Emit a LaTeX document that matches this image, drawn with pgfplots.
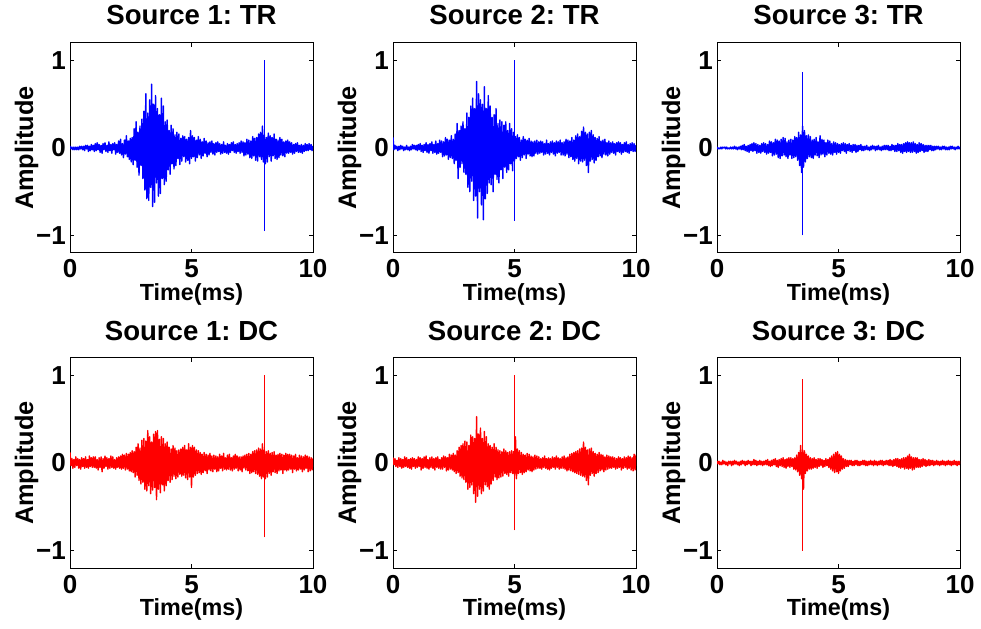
\documentclass[border=0pt]{standalone}
\usepackage{fontspec}
\setmainfont{Liberation Sans}
\usepackage{pgfplots}
\usepackage{pgfplotstable}
\pgfplotsset{compat=1.18}
\frenchspacing

% Source 1: TR (sampled every 0.04 ms)
\pgfplotstableread[row sep=\\,header=false]{
0.02\\-0.01\\0.01\\-0.02\\0.01\\-0.02\\0.01\\-0.02\\0.01\\-0.02\\0.02\\-0.01\\0.02\\-0.02\\0.02\\-0.03\\0.03\\-0.01\\0.03\\-0.04\\0.02\\-0.03\\0.04\\-0.02\\0.03\\
-0.04\\0.05\\-0.03\\0.06\\-0.02\\0.04\\-0.05\\0.03\\-0.06\\0.05\\-0.02\\0.06\\-0.04\\0.03\\-0.05\\0.07\\-0.03\\0.04\\-0.06\\0.05\\-0.02\\0.06\\-0.07\\0.04\\-0.05\\
0.08\\-0.06\\0.10\\-0.08\\0.05\\-0.11\\0.09\\-0.07\\0.14\\-0.10\\0.08\\-0.13\\0.11\\-0.16\\0.12\\-0.19\\0.22\\-0.14\\0.30\\-0.22\\0.18\\-0.31\\0.25\\-0.20\\0.33\\
-0.35\\0.42\\-0.48\\0.62\\-0.58\\0.40\\-0.60\\0.55\\-0.45\\0.73\\-0.67\\0.50\\-0.62\\0.60\\-0.40\\0.45\\-0.55\\0.38\\-0.52\\0.57\\-0.35\\0.48\\-0.42\\0.30\\-0.38\\
0.32\\-0.25\\0.20\\-0.30\\0.26\\-0.18\\0.22\\-0.24\\0.15\\-0.20\\0.18\\-0.12\\0.16\\-0.19\\0.11\\-0.15\\0.14\\-0.10\\0.13\\-0.16\\0.10\\-0.14\\0.12\\-0.18\\0.20\\
-0.12\\0.14\\-0.10\\0.12\\-0.15\\0.09\\-0.11\\0.13\\-0.08\\0.10\\-0.12\\0.07\\-0.09\\0.11\\-0.06\\0.08\\-0.10\\0.06\\-0.08\\0.07\\-0.05\\0.08\\-0.07\\0.05\\-0.08\\
0.06\\-0.05\\0.07\\-0.04\\0.05\\-0.07\\0.04\\-0.06\\0.07\\-0.05\\0.03\\-0.06\\0.05\\-0.07\\0.04\\-0.05\\0.06\\-0.03\\0.07\\-0.05\\0.04\\-0.06\\0.05\\-0.04\\0.06\\
-0.06\\0.08\\-0.05\\0.07\\-0.09\\0.06\\-0.08\\0.10\\-0.07\\0.09\\-0.11\\0.08\\-0.12\\0.13\\-0.09\\0.11\\-0.14\\0.12\\-0.15\\0.16\\-0.10\\0.18\\-0.13\\0.25\\-0.16\\
0.15\\-0.18\\0.12\\-0.16\\0.17\\-0.10\\0.14\\-0.15\\0.12\\-0.09\\0.16\\-0.12\\0.10\\-0.13\\0.09\\-0.11\\0.12\\-0.08\\0.10\\-0.09\\0.07\\-0.10\\0.08\\-0.06\\0.09\\
-0.06\\0.07\\-0.05\\0.06\\-0.07\\0.04\\-0.06\\0.05\\-0.04\\0.06\\-0.05\\0.03\\-0.05\\0.04\\-0.06\\0.03\\-0.04\\0.05\\-0.03\\0.04\\-0.03\\0.05\\-0.02\\0.04\\-0.03\\
0.02\\
}\tA

% Source 2: TR
\pgfplotstableread[row sep=\\,header=false]{
0.12\\-0.02\\0.03\\-0.01\\0.02\\-0.03\\0.02\\-0.02\\0.03\\-0.01\\0.02\\-0.03\\0.01\\-0.02\\0.03\\-0.02\\0.01\\-0.03\\0.02\\-0.02\\0.04\\-0.01\\0.03\\-0.02\\0.03\\
-0.03\\0.04\\-0.02\\0.05\\-0.04\\0.03\\-0.05\\0.04\\-0.03\\0.06\\-0.05\\0.04\\-0.06\\0.05\\-0.03\\0.07\\-0.06\\0.04\\-0.05\\0.08\\-0.07\\0.05\\-0.06\\0.09\\-0.05\\
0.08\\-0.10\\0.07\\-0.09\\0.12\\-0.08\\0.10\\-0.13\\0.09\\-0.11\\0.14\\-0.12\\0.10\\-0.18\\0.16\\-0.14\\0.28\\-0.35\\0.20\\-0.22\\0.25\\-0.18\\0.30\\-0.28\\0.22\\
-0.30\\0.40\\-0.45\\0.35\\-0.50\\0.48\\-0.38\\0.57\\-0.60\\0.45\\-0.55\\0.76\\-0.80\\0.62\\-0.50\\0.55\\-0.65\\0.50\\-0.82\\0.70\\-0.58\\0.45\\-0.52\\0.60\\-0.40\\
0.48\\-0.42\\0.35\\-0.50\\0.38\\-0.30\\0.45\\-0.36\\0.28\\-0.40\\0.32\\-0.25\\0.30\\-0.35\\0.26\\-0.22\\0.30\\-0.28\\0.20\\-0.25\\0.28\\-0.18\\0.22\\-0.26\\0.18\\
-0.15\\0.13\\-0.12\\0.15\\-0.10\\0.12\\-0.14\\0.09\\-0.11\\0.13\\-0.08\\0.10\\-0.12\\0.09\\-0.07\\0.11\\-0.09\\0.08\\-0.10\\0.07\\-0.09\\0.08\\-0.06\\0.09\\-0.07\\
0.07\\-0.06\\0.08\\-0.05\\0.07\\-0.08\\0.05\\-0.07\\0.09\\-0.06\\0.05\\-0.08\\0.07\\-0.05\\0.08\\-0.07\\0.06\\-0.09\\0.08\\-0.06\\0.07\\-0.05\\0.09\\-0.08\\0.06\\
-0.08\\0.07\\-0.09\\0.10\\-0.07\\0.09\\-0.11\\0.08\\-0.10\\0.12\\-0.13\\0.09\\-0.15\\0.14\\-0.12\\0.16\\-0.18\\0.13\\-0.15\\0.19\\-0.16\\0.24\\-0.14\\0.18\\-0.20\\
0.16\\-0.28\\0.18\\-0.15\\0.20\\-0.13\\0.15\\-0.17\\0.12\\-0.14\\0.11\\-0.10\\0.13\\-0.09\\0.08\\-0.11\\0.09\\-0.07\\0.10\\-0.08\\0.06\\-0.09\\0.08\\-0.07\\0.06\\
-0.05\\0.07\\-0.06\\0.05\\-0.08\\0.06\\-0.04\\0.07\\-0.05\\0.06\\-0.07\\0.04\\-0.05\\0.06\\-0.04\\0.07\\-0.05\\0.04\\-0.06\\0.05\\-0.03\\0.06\\-0.04\\0.05\\-0.04\\
0.03\\
}\tB

% Source 3: TR
\pgfplotstableread[row sep=\\,header=false]{
0.01\\-0.01\\0.00\\-0.01\\0.01\\-0.01\\0.01\\0.00\\0.01\\-0.01\\0.01\\-0.01\\0.00\\-0.01\\0.01\\-0.01\\0.01\\-0.01\\0.02\\-0.01\\0.01\\-0.02\\0.01\\-0.01\\0.02\\
-0.02\\0.03\\-0.02\\0.04\\-0.03\\0.02\\-0.04\\0.03\\-0.05\\0.04\\-0.03\\0.05\\-0.04\\0.06\\-0.03\\0.05\\-0.06\\0.04\\-0.05\\0.03\\-0.06\\0.05\\-0.04\\0.06\\-0.05\\
0.05\\-0.07\\0.04\\-0.06\\0.08\\-0.05\\0.07\\-0.09\\0.06\\-0.08\\0.10\\-0.07\\0.09\\-0.11\\0.08\\-0.12\\0.10\\-0.09\\0.12\\-0.08\\0.11\\-0.10\\0.07\\-0.12\\0.09\\
-0.08\\0.10\\-0.12\\0.09\\-0.11\\0.13\\-0.10\\0.12\\-0.14\\0.18\\-0.20\\0.15\\-0.28\\0.25\\-0.22\\0.20\\-0.16\\0.14\\-0.12\\0.15\\-0.10\\0.13\\-0.11\\0.09\\-0.12\\
0.10\\-0.08\\0.12\\-0.09\\0.07\\-0.11\\0.14\\-0.08\\0.10\\-0.07\\0.09\\-0.10\\0.06\\-0.08\\0.09\\-0.06\\0.08\\-0.07\\0.05\\-0.08\\0.07\\-0.05\\0.06\\-0.07\\0.05\\
-0.05\\0.04\\-0.06\\0.05\\-0.03\\0.06\\-0.04\\0.05\\-0.06\\0.04\\-0.03\\0.05\\-0.04\\0.03\\-0.05\\0.04\\-0.03\\0.04\\-0.05\\0.03\\-0.04\\0.03\\-0.02\\0.04\\-0.03\\
0.02\\-0.03\\0.02\\-0.02\\0.03\\-0.02\\0.01\\-0.03\\0.02\\-0.02\\0.03\\-0.01\\0.02\\-0.03\\0.02\\-0.02\\0.03\\-0.02\\0.01\\-0.03\\0.02\\-0.02\\0.03\\-0.02\\0.03\\
-0.02\\0.03\\-0.03\\0.02\\-0.03\\0.04\\-0.02\\0.03\\-0.04\\0.03\\-0.04\\0.05\\-0.03\\0.04\\-0.05\\0.04\\-0.06\\0.05\\-0.04\\0.06\\-0.05\\0.07\\-0.04\\0.06\\-0.05\\
0.06\\-0.05\\0.07\\-0.04\\0.05\\-0.06\\0.04\\-0.05\\0.06\\-0.04\\0.05\\-0.03\\0.04\\-0.05\\0.03\\-0.04\\0.03\\-0.04\\0.03\\-0.02\\0.03\\-0.03\\0.02\\-0.03\\0.02\\
-0.02\\0.02\\-0.01\\0.02\\-0.02\\0.01\\-0.02\\0.02\\-0.01\\0.02\\-0.02\\0.01\\-0.02\\0.01\\-0.02\\0.02\\-0.01\\0.02\\-0.01\\0.01\\-0.02\\0.01\\-0.01\\0.02\\-0.01\\
0.01\\
}\tC

% Source 1: DC
\pgfplotstableread[row sep=\\,header=false]{
0.12\\-0.03\\0.05\\-0.06\\0.04\\-0.05\\0.07\\-0.03\\0.05\\-0.06\\0.04\\-0.07\\0.06\\-0.04\\0.05\\-0.06\\0.07\\-0.05\\0.04\\-0.06\\0.08\\-0.04\\0.06\\-0.05\\0.07\\
-0.05\\0.07\\-0.06\\0.04\\-0.08\\0.06\\-0.05\\0.07\\-0.10\\0.05\\-0.06\\0.08\\-0.04\\0.06\\-0.07\\0.05\\-0.06\\0.08\\-0.05\\0.07\\-0.06\\0.04\\-0.07\\0.06\\-0.05\\
0.07\\-0.06\\0.08\\-0.07\\0.10\\-0.06\\0.09\\-0.08\\0.11\\-0.07\\0.10\\-0.09\\0.12\\-0.10\\0.14\\-0.11\\0.13\\-0.16\\0.18\\-0.14\\0.22\\-0.20\\0.17\\-0.24\\0.26\\
-0.22\\0.28\\-0.30\\0.25\\-0.32\\0.37\\-0.26\\0.30\\-0.35\\0.24\\-0.31\\0.33\\-0.28\\0.36\\-0.42\\0.37\\-0.30\\0.27\\-0.34\\0.30\\-0.25\\0.28\\-0.32\\0.22\\-0.26\\
0.24\\-0.20\\0.18\\-0.22\\0.16\\-0.19\\0.20\\-0.15\\0.17\\-0.18\\0.14\\-0.16\\0.15\\-0.13\\0.16\\-0.15\\0.18\\-0.14\\0.20\\-0.17\\0.15\\-0.19\\0.22\\-0.16\\0.18\\
-0.28\\0.20\\-0.16\\0.18\\-0.14\\0.15\\-0.12\\0.14\\-0.11\\0.12\\-0.13\\0.10\\-0.11\\0.12\\-0.09\\0.10\\-0.12\\0.09\\-0.08\\0.11\\-0.09\\0.08\\-0.10\\0.09\\-0.07\\
0.08\\-0.10\\0.07\\-0.09\\0.10\\-0.06\\0.08\\-0.09\\0.11\\-0.07\\0.06\\-0.08\\0.09\\-0.07\\0.10\\-0.08\\0.06\\-0.09\\0.08\\-0.07\\0.10\\-0.06\\0.08\\-0.09\\0.07\\
-0.08\\0.07\\-0.10\\0.08\\-0.06\\0.09\\-0.08\\0.10\\-0.09\\0.11\\-0.12\\0.10\\-0.11\\0.13\\-0.10\\0.14\\-0.12\\0.15\\-0.13\\0.17\\-0.15\\0.16\\-0.18\\0.22\\-0.16\\
0.15\\-0.18\\0.13\\-0.16\\0.14\\-0.12\\0.11\\-0.14\\0.12\\-0.10\\0.13\\-0.11\\0.09\\-0.12\\0.10\\-0.09\\0.11\\-0.08\\0.10\\-0.12\\0.09\\-0.08\\0.11\\-0.09\\0.10\\
-0.08\\0.10\\-0.07\\0.09\\-0.11\\0.08\\-0.07\\0.10\\-0.09\\0.06\\-0.08\\0.09\\-0.07\\0.08\\-0.10\\0.07\\-0.08\\0.09\\-0.06\\0.08\\-0.10\\0.07\\-0.09\\0.06\\-0.08\\
0.05\\
}\tD

% Source 2: DC
\pgfplotstableread[row sep=\\,header=false]{
0.06\\-0.02\\0.05\\-0.04\\0.03\\-0.05\\0.06\\-0.04\\0.05\\-0.06\\0.04\\-0.05\\0.07\\-0.04\\0.06\\-0.05\\0.04\\-0.06\\0.05\\-0.07\\0.06\\-0.04\\0.05\\-0.06\\0.04\\
-0.05\\0.07\\-0.04\\0.06\\-0.08\\0.05\\-0.06\\0.07\\-0.05\\0.08\\-0.06\\0.04\\-0.07\\0.06\\-0.05\\0.07\\-0.06\\0.05\\-0.08\\0.06\\-0.05\\0.07\\-0.06\\0.04\\-0.07\\
0.06\\-0.07\\0.08\\-0.05\\0.07\\-0.09\\0.06\\-0.08\\0.10\\-0.07\\0.09\\-0.08\\0.11\\-0.10\\0.09\\-0.12\\0.14\\-0.11\\0.18\\-0.15\\0.20\\-0.17\\0.22\\-0.19\\0.25\\
-0.22\\0.24\\-0.30\\0.20\\-0.28\\0.32\\-0.25\\0.30\\-0.35\\0.28\\-0.45\\0.53\\-0.38\\0.33\\-0.30\\0.40\\-0.35\\0.28\\-0.32\\0.36\\-0.25\\0.30\\-0.27\\0.22\\-0.30\\
0.20\\-0.24\\0.18\\-0.20\\0.22\\-0.16\\0.18\\-0.19\\0.15\\-0.17\\0.14\\-0.16\\0.13\\-0.15\\0.16\\-0.12\\0.14\\-0.13\\0.12\\-0.15\\0.13\\-0.11\\0.14\\-0.12\\0.13\\
-0.14\\0.30\\-0.18\\0.16\\-0.12\\0.14\\-0.11\\0.12\\-0.13\\0.10\\-0.11\\0.09\\-0.10\\0.11\\-0.08\\0.10\\-0.09\\0.08\\-0.10\\0.07\\-0.08\\0.09\\-0.07\\0.08\\-0.06\\
0.07\\-0.06\\0.05\\-0.07\\0.06\\-0.05\\0.08\\-0.06\\0.05\\-0.07\\0.06\\-0.08\\0.05\\-0.06\\0.07\\-0.05\\0.06\\-0.07\\0.08\\-0.05\\0.06\\-0.07\\0.05\\-0.06\\0.07\\
-0.06\\0.08\\-0.07\\0.06\\-0.09\\0.07\\-0.08\\0.10\\-0.09\\0.11\\-0.10\\0.12\\-0.11\\0.13\\-0.12\\0.14\\-0.13\\0.16\\-0.14\\0.17\\-0.15\\0.24\\-0.16\\0.18\\-0.20\\
0.15\\-0.25\\0.16\\-0.14\\0.17\\-0.12\\0.13\\-0.15\\0.11\\-0.12\\0.10\\-0.11\\0.12\\-0.09\\0.10\\-0.08\\0.09\\-0.10\\0.07\\-0.08\\0.09\\-0.07\\0.08\\-0.06\\0.07\\
-0.06\\0.07\\-0.05\\0.06\\-0.07\\0.05\\-0.06\\0.07\\-0.05\\0.06\\-0.08\\0.05\\-0.06\\0.07\\-0.05\\0.06\\-0.07\\0.08\\-0.06\\0.07\\-0.08\\0.06\\-0.09\\0.10\\-0.08\\
0.09\\
}\tE

% Source 3: DC
\pgfplotstableread[row sep=\\,header=false]{
0.02\\-0.01\\0.02\\-0.02\\0.01\\-0.02\\0.03\\-0.01\\0.02\\-0.02\\0.01\\-0.03\\0.02\\-0.01\\0.02\\-0.03\\0.02\\-0.02\\0.03\\-0.01\\0.02\\-0.02\\0.01\\-0.03\\0.02\\
-0.02\\0.03\\-0.01\\0.02\\-0.03\\0.02\\-0.02\\0.03\\-0.01\\0.02\\-0.03\\0.02\\-0.02\\0.04\\-0.02\\0.03\\-0.03\\0.02\\-0.02\\0.03\\-0.02\\0.02\\-0.03\\0.02\\-0.02\\
0.03\\-0.02\\0.04\\-0.03\\0.02\\-0.04\\0.03\\-0.03\\0.04\\-0.02\\0.05\\-0.04\\0.03\\-0.05\\0.04\\-0.03\\0.05\\-0.04\\0.06\\-0.05\\0.04\\-0.06\\0.05\\-0.04\\0.06\\
-0.05\\0.06\\-0.04\\0.05\\-0.07\\0.06\\-0.08\\0.09\\-0.10\\0.12\\-0.14\\0.20\\-0.18\\0.15\\-0.30\\0.14\\-0.12\\0.10\\-0.09\\0.08\\-0.07\\0.06\\-0.07\\0.05\\-0.06\\
0.06\\-0.05\\0.04\\-0.06\\0.05\\-0.04\\0.05\\-0.03\\0.04\\-0.05\\0.03\\-0.04\\0.05\\-0.03\\0.04\\-0.05\\0.06\\-0.07\\0.08\\-0.09\\0.10\\-0.11\\0.12\\-0.10\\0.13\\
-0.12\\0.10\\-0.09\\0.08\\-0.07\\0.05\\-0.06\\0.04\\-0.04\\0.03\\-0.04\\0.03\\-0.02\\0.03\\-0.03\\0.02\\-0.03\\0.03\\-0.02\\0.03\\-0.03\\0.02\\-0.03\\0.02\\-0.02\\
0.03\\-0.02\\0.03\\-0.03\\0.02\\-0.03\\0.02\\-0.02\\0.03\\-0.02\\0.02\\-0.03\\0.03\\-0.02\\0.02\\-0.03\\0.02\\-0.02\\0.03\\-0.02\\0.03\\-0.03\\0.02\\-0.02\\0.03\\
-0.02\\0.03\\-0.03\\0.04\\-0.03\\0.03\\-0.04\\0.04\\-0.03\\0.05\\-0.04\\0.05\\-0.05\\0.04\\-0.06\\0.05\\-0.05\\0.06\\-0.07\\0.06\\-0.06\\0.08\\-0.07\\0.10\\-0.06\\
0.07\\-0.08\\0.06\\-0.07\\0.06\\-0.05\\0.06\\-0.05\\0.04\\-0.05\\0.04\\-0.04\\0.05\\-0.03\\0.04\\-0.04\\0.03\\-0.03\\0.04\\-0.03\\0.03\\-0.02\\0.03\\-0.03\\0.02\\
-0.02\\0.03\\-0.02\\0.02\\-0.03\\0.02\\-0.02\\0.03\\-0.02\\0.02\\-0.03\\0.02\\-0.02\\0.03\\-0.02\\0.02\\-0.03\\0.02\\-0.02\\0.03\\-0.02\\0.02\\-0.03\\0.02\\-0.02\\
0.02\\
}\tF

\pgfplotsset{
  sig/.style={
    scale only axis, width=182.25pt, height=157.5pt,
    xmin=0, xmax=10, ymin=-1.2, ymax=1.2,
    xtick={0,5,10}, ytick={-1,0,1},
    xticklabels={0,5,10}, yticklabels={−1,0,1},
    tick align=inside, major tick length=3pt,
    tick style={black, line width=0.6pt},
    axis line style={black, line width=0.75pt},
    every axis title/.style={at={(0.5,1.0857)}, anchor=base,
      font=\fontsize{20.7pt}{24pt}\selectfont\bfseries},
    every axis x label/.style={at={(0.5,-0.228)}, anchor=base,
      font=\fontsize{17.5pt}{20pt}\selectfont\bfseries},
    every axis y label/.style={at={(-0.152,0.5)}, anchor=base, rotate=90,
      font=\fontsize{19pt}{22pt}\selectfont\bfseries},
    xticklabel style={anchor=base, yshift=-18.75pt, inner sep=0pt,
      font=\fontsize{19.5pt}{22pt}\selectfont\bfseries},
    yticklabel style={anchor=east, xshift=-3pt, inner sep=0pt,
      font=\fontsize{19.5pt}{22pt}\selectfont\bfseries},
    xlabel={Time(ms)}, ylabel={Amplitude},
    anchor=south west,
  },
  sigline/.style={line width=1.05pt, line join=round, line cap=round, no marks},
  spike/.style={line width=0.75pt, no marks},
}

\begin{document}
\begin{tikzpicture}
\begin{axis}[sig, at={(52.5pt,281.25pt)}, title={Source 1: TR}]
  \addplot[blue, sigline] table[x expr=\coordindex*0.04, y index=0]{\tA};
  \addplot[blue, spike] coordinates {(8,-0.95) (8,1.0)};
\end{axis}
\begin{axis}[sig, at={(294.75pt,281.25pt)}, title={Source 2: TR}]
  \addplot[blue, sigline] table[x expr=\coordindex*0.04, y index=0]{\tB};
  \addplot[blue, spike] coordinates {(5,-0.83) (5,1.0)};
\end{axis}
\begin{axis}[sig, at={(537.75pt,281.25pt)}, title={Source 3: TR}]
  \addplot[blue, sigline] table[x expr=\coordindex*0.04, y index=0]{\tC};
  \addplot[blue, spike] coordinates {(3.5,-1.0) (3.5,0.87)};
\end{axis}
\begin{axis}[sig, at={(52.5pt,45pt)}, title={Source 1: DC}]
  \addplot[red, sigline] table[x expr=\coordindex*0.04, y index=0]{\tD};
  \addplot[red, spike] coordinates {(8,-0.85) (8,1.0)};
\end{axis}
\begin{axis}[sig, at={(294.75pt,45pt)}, title={Source 2: DC}]
  \addplot[red, sigline] table[x expr=\coordindex*0.04, y index=0]{\tE};
  \addplot[red, spike] coordinates {(5,-0.77) (5,1.0)};
\end{axis}
\begin{axis}[sig, at={(537.75pt,45pt)}, title={Source 3: DC}]
  \addplot[red, sigline] table[x expr=\coordindex*0.04, y index=0]{\tF};
  \addplot[red, spike] coordinates {(3.5,-1.0) (3.5,0.96)};
\end{axis}
\pgfresetboundingbox
\path (0,0) rectangle (735.75pt,471pt);
\end{tikzpicture}
\end{document}
